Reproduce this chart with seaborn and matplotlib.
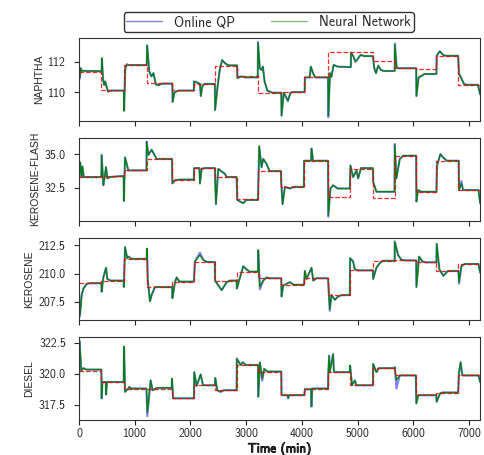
import matplotlib
matplotlib.use("Agg")
import matplotlib.pyplot as plt
import matplotlib.patheffects as pe
from matplotlib.lines import Line2D
import seaborn as sns
import pandas as pd

# setpoint change times (min) and setpoint levels per segment
change_t = [0, 400, 800, 1215, 1670, 2062, 2440, 2830, 3215, 3630, 4045,
            4470, 4860, 5275, 5665, 6050, 6415, 6810, 7200]

nap_sp = [111.35, 110.13, 111.78, 110.60, 110.13, 110.56, 111.72, 111.05, 109.91,
          110.00, 110.99, 112.67, 112.62, 112.04, 111.59, 111.55, 112.40, 110.47]
kfl_sp = [33.30, 33.35, 33.79, 34.64, 33.10, 33.96, 33.30, 31.65, 33.74,
          32.57, 34.50, 31.84, 33.90, 31.77, 34.88, 32.20, 34.50, 32.33]
ker_sp = [209.15, 209.38, 211.30, 208.81, 209.29, 211.02, 209.38, 210.17, 209.58,
          209.01, 209.58, 208.10, 210.28, 211.13, 211.16, 210.99, 210.23, 210.85]
die_sp = [320.26, 319.34, 318.82, 318.82, 318.03, 319.08, 318.68, 320.71, 320.18,
          318.29, 318.76, 320.13, 319.08, 320.45, 319.87, 318.29, 318.50, 319.87]

# NAPHTHA response (neural network)
nap_t = [0, 15, 30, 50, 405, 410, 430, 450, 470, 490, 520, 560, 805, 808, 830, 860, 890,
         1215, 1222, 1260, 1300, 1335, 1380, 1430, 1480, 1675, 1680, 1710, 1750, 1800,
         2060, 2065, 2110, 2170, 2186, 2210, 2250, 2438, 2442, 2490, 2530, 2570, 2620,
         2680, 2838, 2842, 2920, 2980, 3208, 3212, 3245, 3275, 3300, 3330, 3380, 3470,
         3630, 3635, 3675, 3750, 3795, 3840, 4050, 4055, 4140, 4160, 4200, 4240, 4470,
         4474, 4505, 4530, 4570, 4640, 4878, 4882, 4925, 4960, 4995, 5055, 5120, 5275,
         5300, 5330, 5370, 5420, 5470, 5665, 5669, 5700, 5730, 6052, 6056, 6095, 6140,
         6200, 6415, 6420, 6475, 6535, 6580, 6805, 6820, 6855, 6910, 6960, 7160, 7200]
nap_nn = [111.70, 110.97, 111.57, 111.40, 111.38, 112.22, 110.90, 110.47, 110.70, 110.40,
          110.03, 110.10, 110.10, 108.77, 111.57, 111.83, 111.78, 111.78, 113.08, 111.35,
          111.03, 111.25, 110.50, 110.45, 110.56, 110.56, 109.35, 109.96, 110.05, 110.10,
          110.10, 110.70, 110.65, 110.54, 109.74, 110.36, 110.54, 110.54, 108.82, 110.50,
          111.57, 112.11, 111.90, 111.76, 111.76, 110.93, 111.03, 110.97, 110.97, 113.25,
          111.57, 111.46, 111.68, 110.70, 110.10, 109.96, 109.96, 108.45, 109.96, 109.42,
          109.96, 110.00, 110.00, 110.97, 110.97, 111.68, 111.25, 110.97, 110.97, 108.45,
          111.25, 111.00, 111.79, 111.68, 111.64, 112.60, 112.35, 112.00, 112.15, 112.45,
          112.37, 112.37, 111.57, 111.25, 111.74, 111.45, 111.39, 111.39, 113.12, 111.68,
          111.57, 111.57, 109.74, 110.97, 111.05, 111.19, 111.19, 112.39, 112.69, 112.45,
          112.39, 112.39, 111.20, 110.93, 110.53, 110.48, 110.48, 109.85]
# points where the online QP response differs from the network
nap_qp_t = [15, 3212, 4474, 5669, 6855]
nap_qp_v = [110.90, 113.30, 108.35, 113.20, 111.00]

# KEROSENE-FLASH
kfl_t = [0, 20, 45, 60, 85, 400, 406, 436, 460, 484, 508, 560, 700, 800, 805, 825, 885,
         1210, 1214, 1243, 1303, 1393, 1670, 1674, 1722, 1800, 2060, 2065, 2160, 2170,
         2200, 2260, 2437, 2457, 2499, 2559, 2618, 2648, 2828, 2840, 2947, 3000, 3212,
         3216, 3234, 3276, 3306, 3366, 3420, 3623, 3628, 3653, 3695, 3784, 3850, 4035,
         4040, 4165, 4173, 4203, 4250, 4470, 4474, 4513, 4561, 4640, 4860, 4872, 4920,
         4980, 5010, 5060, 5275, 5279, 5338, 5400, 5663, 5667, 5697, 5757, 5820, 6052,
         6056, 6086, 6140, 6415, 6426, 6486, 6534, 6600, 6815, 6821, 6863, 6893, 7170, 7200]
kfl_nn = [33.18, 34.39, 33.30, 34.08, 33.30, 33.30, 34.88, 32.69, 33.30, 34.03, 33.20,
          33.30, 33.35, 33.37, 31.53, 34.76, 33.79, 33.79, 35.92, 34.93, 35.32, 34.64,
          34.64, 32.82, 33.06, 33.11, 33.11, 33.96, 33.96, 32.82, 33.91, 33.96, 33.96,
          31.29, 33.91, 33.71, 33.54, 33.30, 33.30, 31.60, 31.36, 31.60, 31.60, 32.33,
          35.61, 34.03, 34.64, 34.27, 33.74, 33.74, 32.99, 31.29, 32.57, 32.45, 32.57,
          32.57, 34.51, 34.51, 35.41, 34.47, 34.51, 34.51, 30.46, 32.45, 32.69, 32.45,
          32.45, 34.15, 33.30, 33.79, 33.20, 33.96, 33.96, 32.94, 32.21, 32.21, 32.21,
          35.66, 33.20, 34.64, 34.88, 34.88, 31.48, 32.33, 32.21, 32.21, 34.15, 35.00,
          34.76, 34.51, 34.51, 32.33, 32.82, 32.33, 32.33, 31.36]
kfl_qp_t = [406, 3234, 4474, 5667, 6863]
kfl_qp_v = [34.95, 35.55, 30.35, 35.75, 33.00]

# KEROSENE
ker_t = [0, 15, 48, 78, 140, 200, 400, 406, 436, 484, 508, 560, 800, 804, 825, 865, 885,
         940, 1212, 1220, 1232, 1273, 1303, 1363, 1420, 1672, 1676, 1722, 1752, 1800,
         2062, 2080, 2170, 2230, 2300, 2437, 2440, 2480, 2560, 2650, 2710, 2828, 2832,
         2947, 3006, 3060, 3212, 3216, 3246, 3306, 3366, 3420, 3630, 3635, 3665, 3784,
         3850, 4040, 4053, 4083, 4173, 4203, 4260, 4470, 4500, 4531, 4591, 4650, 4720,
         4860, 4866, 4920, 4950, 5000, 5275, 5279, 5338, 5398, 5450, 5665, 5667, 5727,
         5787, 5850, 6052, 6056, 6104, 6164, 6220, 6415, 6420, 6468, 6540, 6620, 6810,
         6821, 6863, 6923, 7170, 7200]
ker_nn = [208.39, 206.36, 208.11, 208.67, 209.10, 209.15, 209.15, 208.39, 209.66, 210.51,
          209.52, 209.38, 209.38, 208.81, 212.34, 211.36, 211.50, 211.30, 211.30, 212.20,
          209.52, 207.54, 208.11, 208.81, 208.81, 208.81, 207.82, 209.24, 209.66, 209.29,
          209.29, 211.07, 211.64, 211.21, 211.02, 211.02, 209.38, 209.10, 208.53, 209.24,
          209.38, 209.38, 208.67, 210.65, 210.37, 210.17, 210.17, 212.06, 208.81, 209.38,
          209.66, 209.58, 209.58, 207.97, 208.95, 209.24, 209.01, 209.01, 210.23, 209.52,
          210.51, 209.38, 209.58, 209.58, 206.84, 208.11, 207.68, 207.97, 208.10, 208.10,
          211.36, 211.07, 210.37, 210.28, 210.28, 209.52, 210.51, 210.93, 211.13, 211.13,
          212.77, 211.64, 211.21, 211.16, 211.16, 208.81, 211.50, 211.07, 210.99, 210.99,
          212.63, 210.37, 209.80, 210.23, 210.23, 209.24, 210.65, 210.85, 210.85, 210.08]
ker_qp_t = [15, 2170, 3246, 4500, 5667, 6821]
ker_qp_v = [206.20, 211.85, 208.60, 206.70, 212.85, 209.10]

# DIESEL
die_t = [0, 8, 40, 78, 130, 400, 405, 420, 480, 485, 500, 800, 808, 826, 880, 905, 930,
         1210, 1225, 1285, 1320, 1400, 1665, 1668, 1690, 2062, 2068, 2110, 2183, 2225,
         2440, 2445, 2480, 2540, 2600, 2828, 2832, 2900, 2940, 2990, 3212, 3216, 3246,
         3288, 3324, 3380, 3630, 3634, 3740, 3754, 3770, 4045, 4053, 4165, 4172, 4185,
         4470, 4475, 4489, 4500, 4560, 4575, 4860, 4866, 4900, 4950, 4980, 5275, 5279,
         5338, 5380, 5665, 5667, 5697, 5757, 6045, 6055, 6090, 6410, 6420, 6480, 6520,
         6805, 6821, 6850, 6880, 7170, 7200]
die_nn = [318.03, 322.63, 320.26, 320.45, 320.34, 320.34, 318.03, 319.34, 319.34, 318.34,
          319.34, 319.34, 322.18, 318.55, 318.82, 318.95, 318.82, 318.82, 316.90, 319.47,
          318.68, 318.87, 318.87, 319.61, 318.03, 318.03, 320.13, 319.03, 319.95, 319.08,
          319.08, 319.66, 318.68, 318.55, 318.68, 318.68, 321.18, 320.71, 320.92, 320.71,
          320.71, 318.16, 320.92, 319.61, 320.39, 320.18, 320.18, 318.29, 318.29, 318.03,
          318.29, 318.29, 318.76, 318.76, 317.37, 318.82, 318.82, 320.13, 321.45, 320.13,
          321.58, 320.13, 320.13, 320.66, 319.08, 319.47, 319.08, 319.08, 320.79, 320.13,
          320.45, 320.45, 320.53, 319.50, 319.87, 319.87, 317.63, 318.29, 318.29, 317.76,
          318.42, 318.50, 318.50, 320.13, 320.92, 319.87, 319.87, 319.34]
die_qp_t = [1225, 2832, 3288, 5697]
die_qp_v = [316.60, 321.25, 319.45, 318.82]

panels = [
    ("NAPHTHA", nap_t, nap_nn, nap_qp_t, nap_qp_v, nap_sp, [110, 112], "{:.0f}"),
    ("KEROSENE-FLASH", kfl_t, kfl_nn, kfl_qp_t, kfl_qp_v, kfl_sp, [32.5, 35.0], "{:.1f}"),
    ("KEROSENE", ker_t, ker_nn, ker_qp_t, ker_qp_v, ker_sp, [207.5, 210.0, 212.5], "{:.1f}"),
    ("DIESEL", die_t, die_nn, die_qp_t, die_qp_v, die_sp, [317.5, 320.0, 322.5], "{:.1f}"),
]

sns.set_style("ticks")
plt.rcParams["font.family"] = ["cmss10", "DejaVu Sans"]
plt.rcParams["axes.unicode_minus"] = False
plt.rcParams["axes.linewidth"] = 0.8

fig, axes = plt.subplots(4, 1, figsize=(4.85, 4.55), dpi=100, sharex=True)
fig.subplots_adjust(left=0.163, right=0.99, top=0.916, bottom=0.077, hspace=0.205)

for ax, (name, t, nn, qp_t, qp_v, sp, yt, fmt) in zip(axes, panels):
    df = pd.DataFrame({"t": t, "nn": nn})
    qp = dict(zip(t, nn))
    qp.update(dict(zip(qp_t, qp_v)))
    df["qp"] = [qp[x] for x in t]
    sp_df = pd.DataFrame({"t": change_t, "sp": sp + [sp[-1]]})

    sns.lineplot(data=df, x="t", y="qp", ax=ax, color="blue", lw=1.5, alpha=0.5,
                 estimator=None, sort=False)
    sns.lineplot(data=df, x="t", y="nn", ax=ax, color="green", lw=1.0, alpha=0.95,
                 estimator=None, sort=False)
    sns.lineplot(data=sp_df, x="t", y="sp", ax=ax, color="red", lw=0.9, ls="--",
                 alpha=0.85, drawstyle="steps-post", estimator=None, sort=False)

    ax.set_yticks(yt)
    ax.set_yticklabels([fmt.format(v) for v in yt])
    ax.set_ylabel(name, family=["Liberation Sans", "DejaVu Sans"], fontsize=7.5,
                  labelpad=3)
    ax.set_xlabel("")
    ax.tick_params(labelsize=8.5, length=3.5, width=0.8)
    ax.tick_params(axis="y", pad=6)
    ax.tick_params(axis="x", pad=2)
    for s in ax.spines.values():
        s.set_color("#333333")

axes[-1].set_xlim(0, 7200)
axes[-1].set_xticks(range(0, 7001, 1000))
xl = axes[-1].set_xlabel("Time (min)", fontsize=9.5, labelpad=2)
xl.set_path_effects([pe.withStroke(linewidth=0.6, foreground="black")])

handles = [Line2D([], [], color="blue", lw=1.0, alpha=0.5),
           Line2D([], [], color="green", lw=1.0, alpha=0.5)]
fig.legend(handles, ["Online QP", "Neural Network"], loc="upper center",
           bbox_to_anchor=(0.554, 0.988), ncol=2, fontsize=10, frameon=True,
           edgecolor="black", fancybox=True, handlelength=2.6, handletextpad=0.85,
           columnspacing=2.6, borderpad=0.2)

fig.savefig("out.png", dpi=100)
